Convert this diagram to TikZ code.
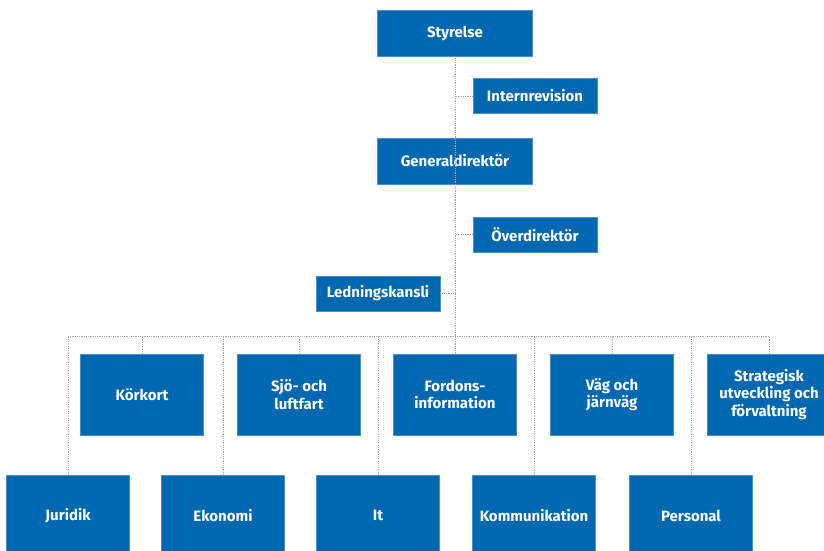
\documentclass[tikz,border=0pt]{standalone}
\usepackage{fontspec}
\setmainfont{Fira Sans}
\usepackage{tikz}
\usetikzlibrary{positioning, calc}
\definecolor{orgBlue}{HTML}{0067B1}
\definecolor{edgeBlue}{HTML}{4A8FCB}
\definecolor{lineGrey}{HTML}{A8A8A8}
\tikzset{
    % Boxes
    unitBox/.style={
        rectangle, fill=orgBlue, draw=edgeBlue, line width=0.6pt,
        text=white, font=\fontsize{15}{17.5}\selectfont\bfseries, align=center,
        inner sep=0pt
    },
    headBox/.style={unitBox, minimum width=155pt, minimum height=46pt},
    staffBox/.style={unitBox, minimum width=124pt, minimum height=35pt},
    deptBox/.style={unitBox, minimum width=123pt, minimum height=81pt},
    % Lines
    orgLine/.style={draw=lineGrey, densely dotted, line width=0.8pt}
}
\begin{document}
\begin{tikzpicture}[x=1pt, y=-1pt]
        \useasboundingbox (0,0) rectangle (824,550);

        % Top of the chart
        \node[headBox] (styrelse) at (455, 33) {Styrelse};
        \node[staffBox] (internrev) at (535, 96) {Internrevision};
        \node[headBox] (gd) at (455, 161) {Generaldirektör};
        \node[staffBox] (overdir) at (535, 234.5) {Överdirektör};
        \node[staffBox] (ledning) at (378, 293.5) {Ledningskansli};

        % Upper row of departments
        \node[deptBox] (korkort) at (142, 394.5) {Körkort};
        \node[deptBox] (sjo) at (299, 394.5) {Sjö- och\\luftfart};
        \node[deptBox] (fordon) at (455, 394.5) {Fordons-\\information};
        \node[deptBox] (vag) at (612, 394.5) {Väg och\\järnväg};
        \node[deptBox] (strategi) at (769, 394.5) {Strategisk\\utveckling och\\förvaltning};

        % Lower row of departments
        \node[deptBox] (juridik) at (68, 515.5) {Juridik};
        \node[deptBox] (ekonomi) at (223, 515.5) {Ekonomi};
        \node[deptBox] (it) at (378, 515.5) {It};
        \node[deptBox] (kommunikation) at (534, 515.5) {Kommunikation};
        \node[deptBox] (personal) at (691, 515.5) {Personal};

        % Bus line
        \coordinate (busL) at (68, 336);
        \coordinate (busR) at (769, 336);

        % Connectors
        \draw[orgLine] (styrelse.south) -- (fordon.north);
        \draw[orgLine] (internrev.west) -- (internrev.west -| styrelse.south);
        \draw[orgLine] (overdir.west) -- (overdir.west -| gd.south);
        \draw[orgLine] (ledning.east) -- (ledning.east -| gd.south);
        \draw[orgLine] (busL) -- (busR);
        \foreach \dept in {korkort, sjo, vag, strategi}
            \draw[orgLine] (\dept.north) -- (\dept.north |- busL);
        \foreach \dept in {juridik, ekonomi, it, kommunikation, personal}
            \draw[orgLine] (\dept.north) -- (\dept.north |- busL);
    \end{tikzpicture}
\end{document}
